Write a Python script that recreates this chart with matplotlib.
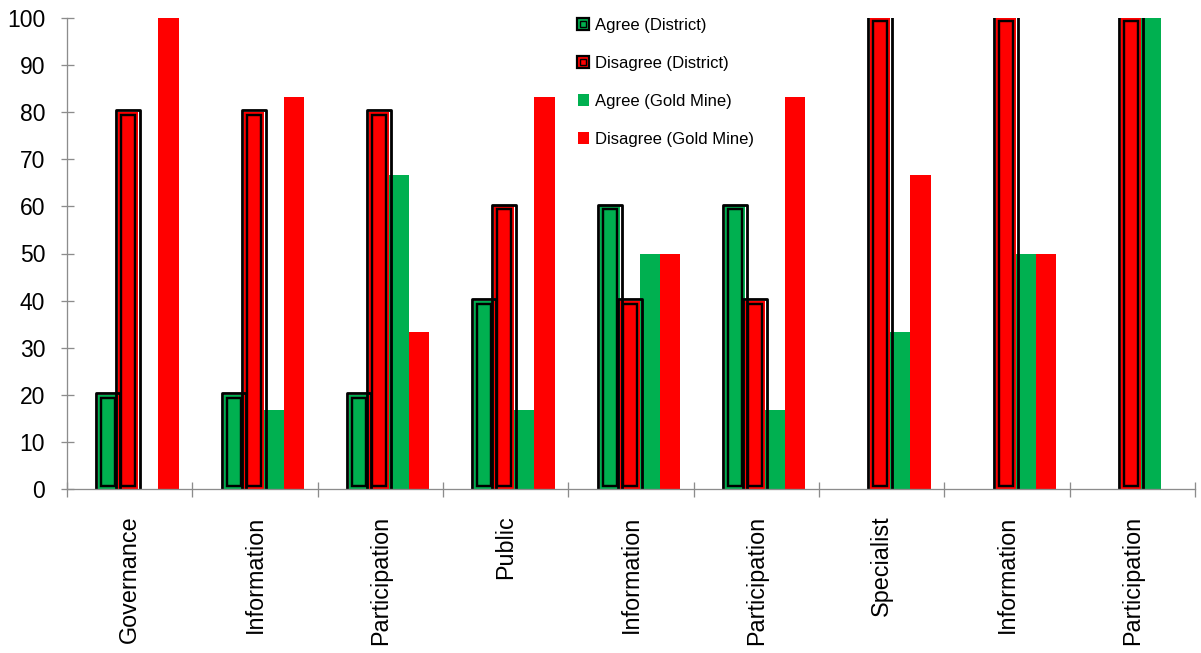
import matplotlib
matplotlib.use("Agg")
import matplotlib.pyplot as plt
from matplotlib.patches import Rectangle
from matplotlib.legend_handler import HandlerBase
from matplotlib.lines import Line2D

plt.rcParams['font.family'] = ['Liberation Sans', 'DejaVu Sans']

categories = ["Governance", "Information", "Participation", "Public", "Information",
              "Participation", "Specialist", "Information", "Participation"]
agree_district = [20, 20, 20, 40, 60, 60, 0, 0, 0]
disagree_district = [80, 80, 80, 60, 40, 40, 100, 100, 100]
agree_gold = [0, 16.67, 66.67, 16.67, 50, 16.67, 33.33, 50, 100]
disagree_gold = [100, 83.33, 33.33, 83.33, 50, 83.33, 66.67, 50, 0]

GREEN = "#00B050"
RED = "#FF0000"
AXIS_GREY = "#8C8C8C"

W, H, DPI = 1201, 653, 100
fig = plt.figure(figsize=(W / DPI, H / DPI), dpi=DPI)
ax = fig.add_axes([67 / W, 1 - 489 / H, 1128 / W, 471 / H])
ax.set_xlim(-0.5, len(categories) - 0.5)
ax.set_ylim(0, 100)

# pixel -> data conversion factors
px_x = (len(categories)) / 1128.0
px_y = 100.0 / 471.0
pt = 72.0 / DPI  # points per pixel

bar_w = 0.16
offsets = [-0.17, -0.01, 0.15, 0.31]


def district_bar(x, h, color):
    if h <= 0:
        return
    left = x - bar_w / 2
    # filled body
    ax.add_patch(Rectangle((left, 0), bar_w, h, facecolor=color,
                           edgecolor="none", zorder=3))
    # outer dark outline
    ax.add_patch(Rectangle((left - 1.9 * px_x, -5), bar_w + 3.8 * px_x, h + 5 + 1.9 * px_y,
                           facecolor="none", edgecolor="black", linewidth=2.8 * pt,
                           joinstyle="round", zorder=4))
    # inner dark outline
    ax.add_patch(Rectangle((left + 3.0 * px_x, 3.0 * px_y), bar_w - 6.0 * px_x,
                           h - 6.0 * px_y, facecolor="none", edgecolor="black",
                           linewidth=2.4 * pt, zorder=5))


def plain_bar(x, h, color):
    if h <= 0:
        return
    ax.add_patch(Rectangle((x - bar_w / 2, 0), bar_w, h, facecolor=color,
                           edgecolor="none", zorder=3))


for i in range(len(categories)):
    district_bar(i + offsets[0], agree_district[i], GREEN)
    district_bar(i + offsets[1], disagree_district[i], RED)
    plain_bar(i + offsets[2], agree_gold[i], GREEN)
    plain_bar(i + offsets[3], disagree_gold[i], RED)

# axes styling
for s in ("top", "right"):
    ax.spines[s].set_visible(False)
for s in ("left", "bottom"):
    ax.spines[s].set_color(AXIS_GREY)
    ax.spines[s].set_linewidth(1.3 * pt)
    ax.spines[s].set_zorder(6)

ax.set_yticks(range(0, 101, 10))
ax.tick_params(axis="y", direction="inout", length=13 * pt, width=1.3 * pt,
               color=AXIS_GREY, labelsize=16.5, pad=11, labelcolor="black")

boundaries = [i - 0.5 for i in range(len(categories) + 1)]
ax.set_xticks(boundaries)
ax.set_xticklabels([])
ax.tick_params(axis="x", which="major", direction="inout", length=15 * pt,
               width=1.3 * pt, color=AXIS_GREY)
ax.set_xticks(range(len(categories)), minor=True)
ax.set_xticklabels(categories, minor=True, rotation=90, fontsize=16.8,
                   va="top", ha="center")
ax.tick_params(axis="x", which="minor", length=0, pad=19)


class DistrictHandler(HandlerBase):
    def __init__(self, color):
        super().__init__()
        self.color = color

    def create_artists(self, legend, orig_handle, xdescent, ydescent, width,
                       height, fontsize, trans):
        s = 9.0
        x0 = width - s - xdescent
        y0 = (height - s) / 2 - ydescent
        outer = Rectangle((x0, y0), s, s, facecolor=self.color, edgecolor="black",
                          linewidth=1.6, transform=trans)
        inner = Rectangle((x0 + 2.4, y0 + 2.4), s - 4.8, s - 4.8,
                          facecolor=self.color, edgecolor="black", linewidth=1.0,
                          transform=trans)
        return [outer, inner]


class PlainHandler(HandlerBase):
    def __init__(self, color):
        super().__init__()
        self.color = color

    def create_artists(self, legend, orig_handle, xdescent, ydescent, width,
                       height, fontsize, trans):
        s = 8.5
        x0 = width - s - xdescent
        y0 = (height - s) / 2 - ydescent
        return [Rectangle((x0, y0), s, s, facecolor=self.color, edgecolor="none",
                          transform=trans)]


h1, h2, h3, h4 = (Line2D([], []) for _ in range(4))
leg = fig.legend([h1, h2, h3, h4],
                 ["Agree (District)", "Disagree (District)", "Agree (Gold Mine)",
                  "Disagree (Gold Mine)"],
                 handler_map={h1: DistrictHandler(GREEN), h2: DistrictHandler(RED),
                              h3: PlainHandler(GREEN), h4: PlainHandler(RED)},
                 loc="upper left", bbox_to_anchor=(576 / W, 1 - 18 / H),
                 frameon=False, fontsize=12, handlelength=0.8, handletextpad=0.35,
                 labelspacing=1.38, borderpad=0, borderaxespad=0)

fig.savefig("out.png", dpi=DPI)
